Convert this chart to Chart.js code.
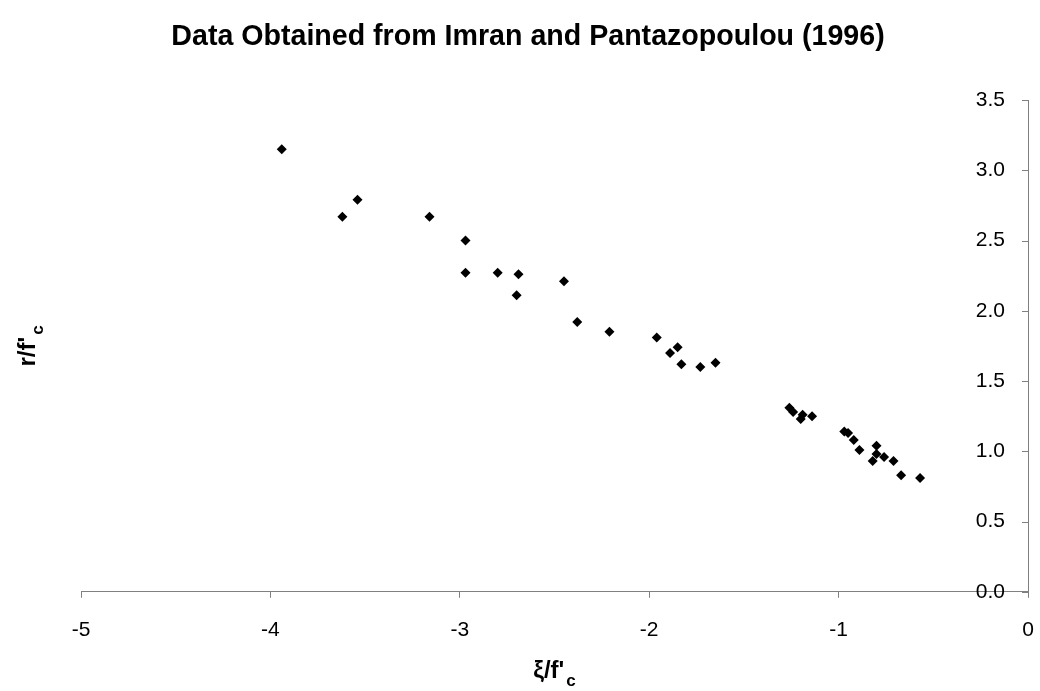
<!DOCTYPE html>
<html>
<head>
<meta charset="utf-8">
<script src="https://cdn.jsdelivr.net/npm/chart.js@4.4.1/dist/chart.umd.min.js"></script>
<style>
  html, body { margin: 0; padding: 0; background: #fff; }
  #wrap { width: 1040px; height: 691px; }
</style>
</head>
<body>
<div id="wrap"><canvas id="myChart" width="1040" height="691"></canvas></div>
<script>
// Data (xi/f'c , r/f'c)
const xiValues = [
  -3.94, -3.62, -3.54, -3.16, -2.97, -2.97, -2.80, -2.69, -2.70, -2.45,
  -2.38, -2.21, -1.96, -1.89, -1.85, -1.83, -1.73, -1.65,
  -1.26, -1.24, -1.20, -1.19, -1.14,
  -0.97, -0.95, -0.92, -0.89, -0.80, -0.82, -0.80, -0.76, -0.71, -0.67, -0.57
];
const rValues = [
  3.15, 2.67, 2.79, 2.67, 2.50, 2.27, 2.27, 2.26, 2.11, 2.21,
  1.92, 1.85, 1.81, 1.70, 1.74, 1.62, 1.60, 1.63,
  1.31, 1.28, 1.23, 1.26, 1.25,
  1.14, 1.13, 1.08, 1.01, 1.04, 0.93, 0.98, 0.96, 0.93, 0.83, 0.81
];
const xTicks = [-5, -4, -3, -2, -1, 0];
const yTicks = [0, 0.5, 1.0, 1.5, 2.0, 2.5, 3.0, 3.5];

const chartTitle = "Data Obtained from Imran and Pantazopoulou (1996)";
const xTitle = ["\u03BE/f'", "c"];
const yTitle = ["r/f'", "c"];

const axisGrey = '#808080';
const fontName = "'Liberation Sans', Arial, sans-serif";

// tick marks on the y axis point into the plot (Excel style)
const yTickMarks = {
  id: 'yTickMarks',
  afterDraw(chart) {
    const ctx = chart.ctx;
    const y = chart.scales.y;
    const xPix = chart.scales.x.getPixelForValue(0);
    ctx.save();
    ctx.strokeStyle = axisGrey;
    ctx.lineWidth = 1;
    y.ticks.forEach(t => {
      const py = Math.round(y.getPixelForValue(t.value)) + 0.5;
      ctx.beginPath();
      ctx.moveTo(xPix - 6, py);
      ctx.lineTo(xPix, py);
      ctx.stroke();
    });
    ctx.restore();
  }
};

// axis titles with subscript c
function drawSubTitle(ctx, parts, size) {
  const small = Math.round(size * 0.7);
  ctx.font = 'bold ' + size + 'px ' + fontName;
  const w1 = ctx.measureText(parts[0]).width;
  ctx.font = 'bold ' + small + 'px ' + fontName;
  const w2 = ctx.measureText(parts[1]).width;
  const start = -(w1 + w2 + 2) / 2;
  ctx.font = 'bold ' + size + 'px ' + fontName;
  ctx.fillText(parts[0], start, 0);
  ctx.font = 'bold ' + small + 'px ' + fontName;
  ctx.fillText(parts[1], start + w1 + 2, 8);
}

const titles = {
  id: 'titles',
  afterDraw(chart) {
    const ctx = chart.ctx;
    const area = chart.chartArea;
    ctx.save();
    ctx.fillStyle = '#000';
    // main title
    ctx.textAlign = 'center';
    ctx.textBaseline = 'middle';
    ctx.font = 'bold 28.6px ' + fontName;
    ctx.fillText(chartTitle, 528, 37);
    ctx.textAlign = 'left';
    ctx.textBaseline = 'alphabetic';
    // x title
    ctx.save();
    ctx.translate((area.left + area.right) / 2, 678);
    drawSubTitle(ctx, xTitle, 24);
    ctx.restore();
    // y title
    ctx.save();
    ctx.translate(35, (area.top + area.bottom) / 2);
    ctx.rotate(-Math.PI / 2);
    drawSubTitle(ctx, yTitle, 24);
    ctx.restore();
    ctx.restore();
  }
};

const ctx = document.getElementById('myChart').getContext('2d');
new Chart(ctx, {
  type: 'scatter',
  data: {
    datasets: [{
      label: 'Imran and Pantazopoulou (1996)',
      data: xiValues.map((x, i) => ({ x: x, y: rValues[i] })),
      pointStyle: 'rectRot',
      pointRadius: 5,
      pointHoverRadius: 5,
      backgroundColor: '#000',
      borderColor: '#000',
      borderWidth: 0
    }]
  },
  options: {
    responsive: false,
    animation: false,
    events: [],
    layout: {
      padding: { left: 81, right: 11, top: 100, bottom: 28 }
    },
    plugins: {
      legend: { display: false },
      tooltip: { enabled: false },
      title: { display: false }
    },
    scales: {
      x: {
        type: 'linear',
        position: 'bottom',
        min: -5,
        max: 0,
        afterBuildTicks: s => { s.ticks = xTicks.map(v => ({ value: v })); },
        afterFit: s => { s.paddingLeft = 0; s.paddingRight = 0; },
        grid: {
          drawOnChartArea: false,
          drawTicks: true,
          tickLength: 6,
          color: axisGrey
        },
        border: { color: axisGrey, width: 1 },
        ticks: {
          color: '#000',
          padding: 20,
          maxRotation: 0,
          font: { family: fontName, size: 21 },
          callback: v => String(v)
        }
      },
      y: {
        type: 'linear',
        position: 'right',
        min: 0,
        max: 3.5,
        afterBuildTicks: s => { s.ticks = yTicks.map(v => ({ value: v })); },
        afterFit: s => { s.width = 1; s.paddingTop = 0; s.paddingBottom = 0; },
        grid: {
          drawOnChartArea: false,
          drawTicks: false,
          color: axisGrey
        },
        border: { color: axisGrey, width: 1 },
        ticks: {
          mirror: true,
          crossAlign: 'near',
          padding: -23,
          color: '#000',
          font: { family: fontName, size: 21 },
          callback: v => Number(v).toFixed(1)
        }
      }
    }
  },
  plugins: [yTickMarks, titles]
});
</script>
</body>
</html>
